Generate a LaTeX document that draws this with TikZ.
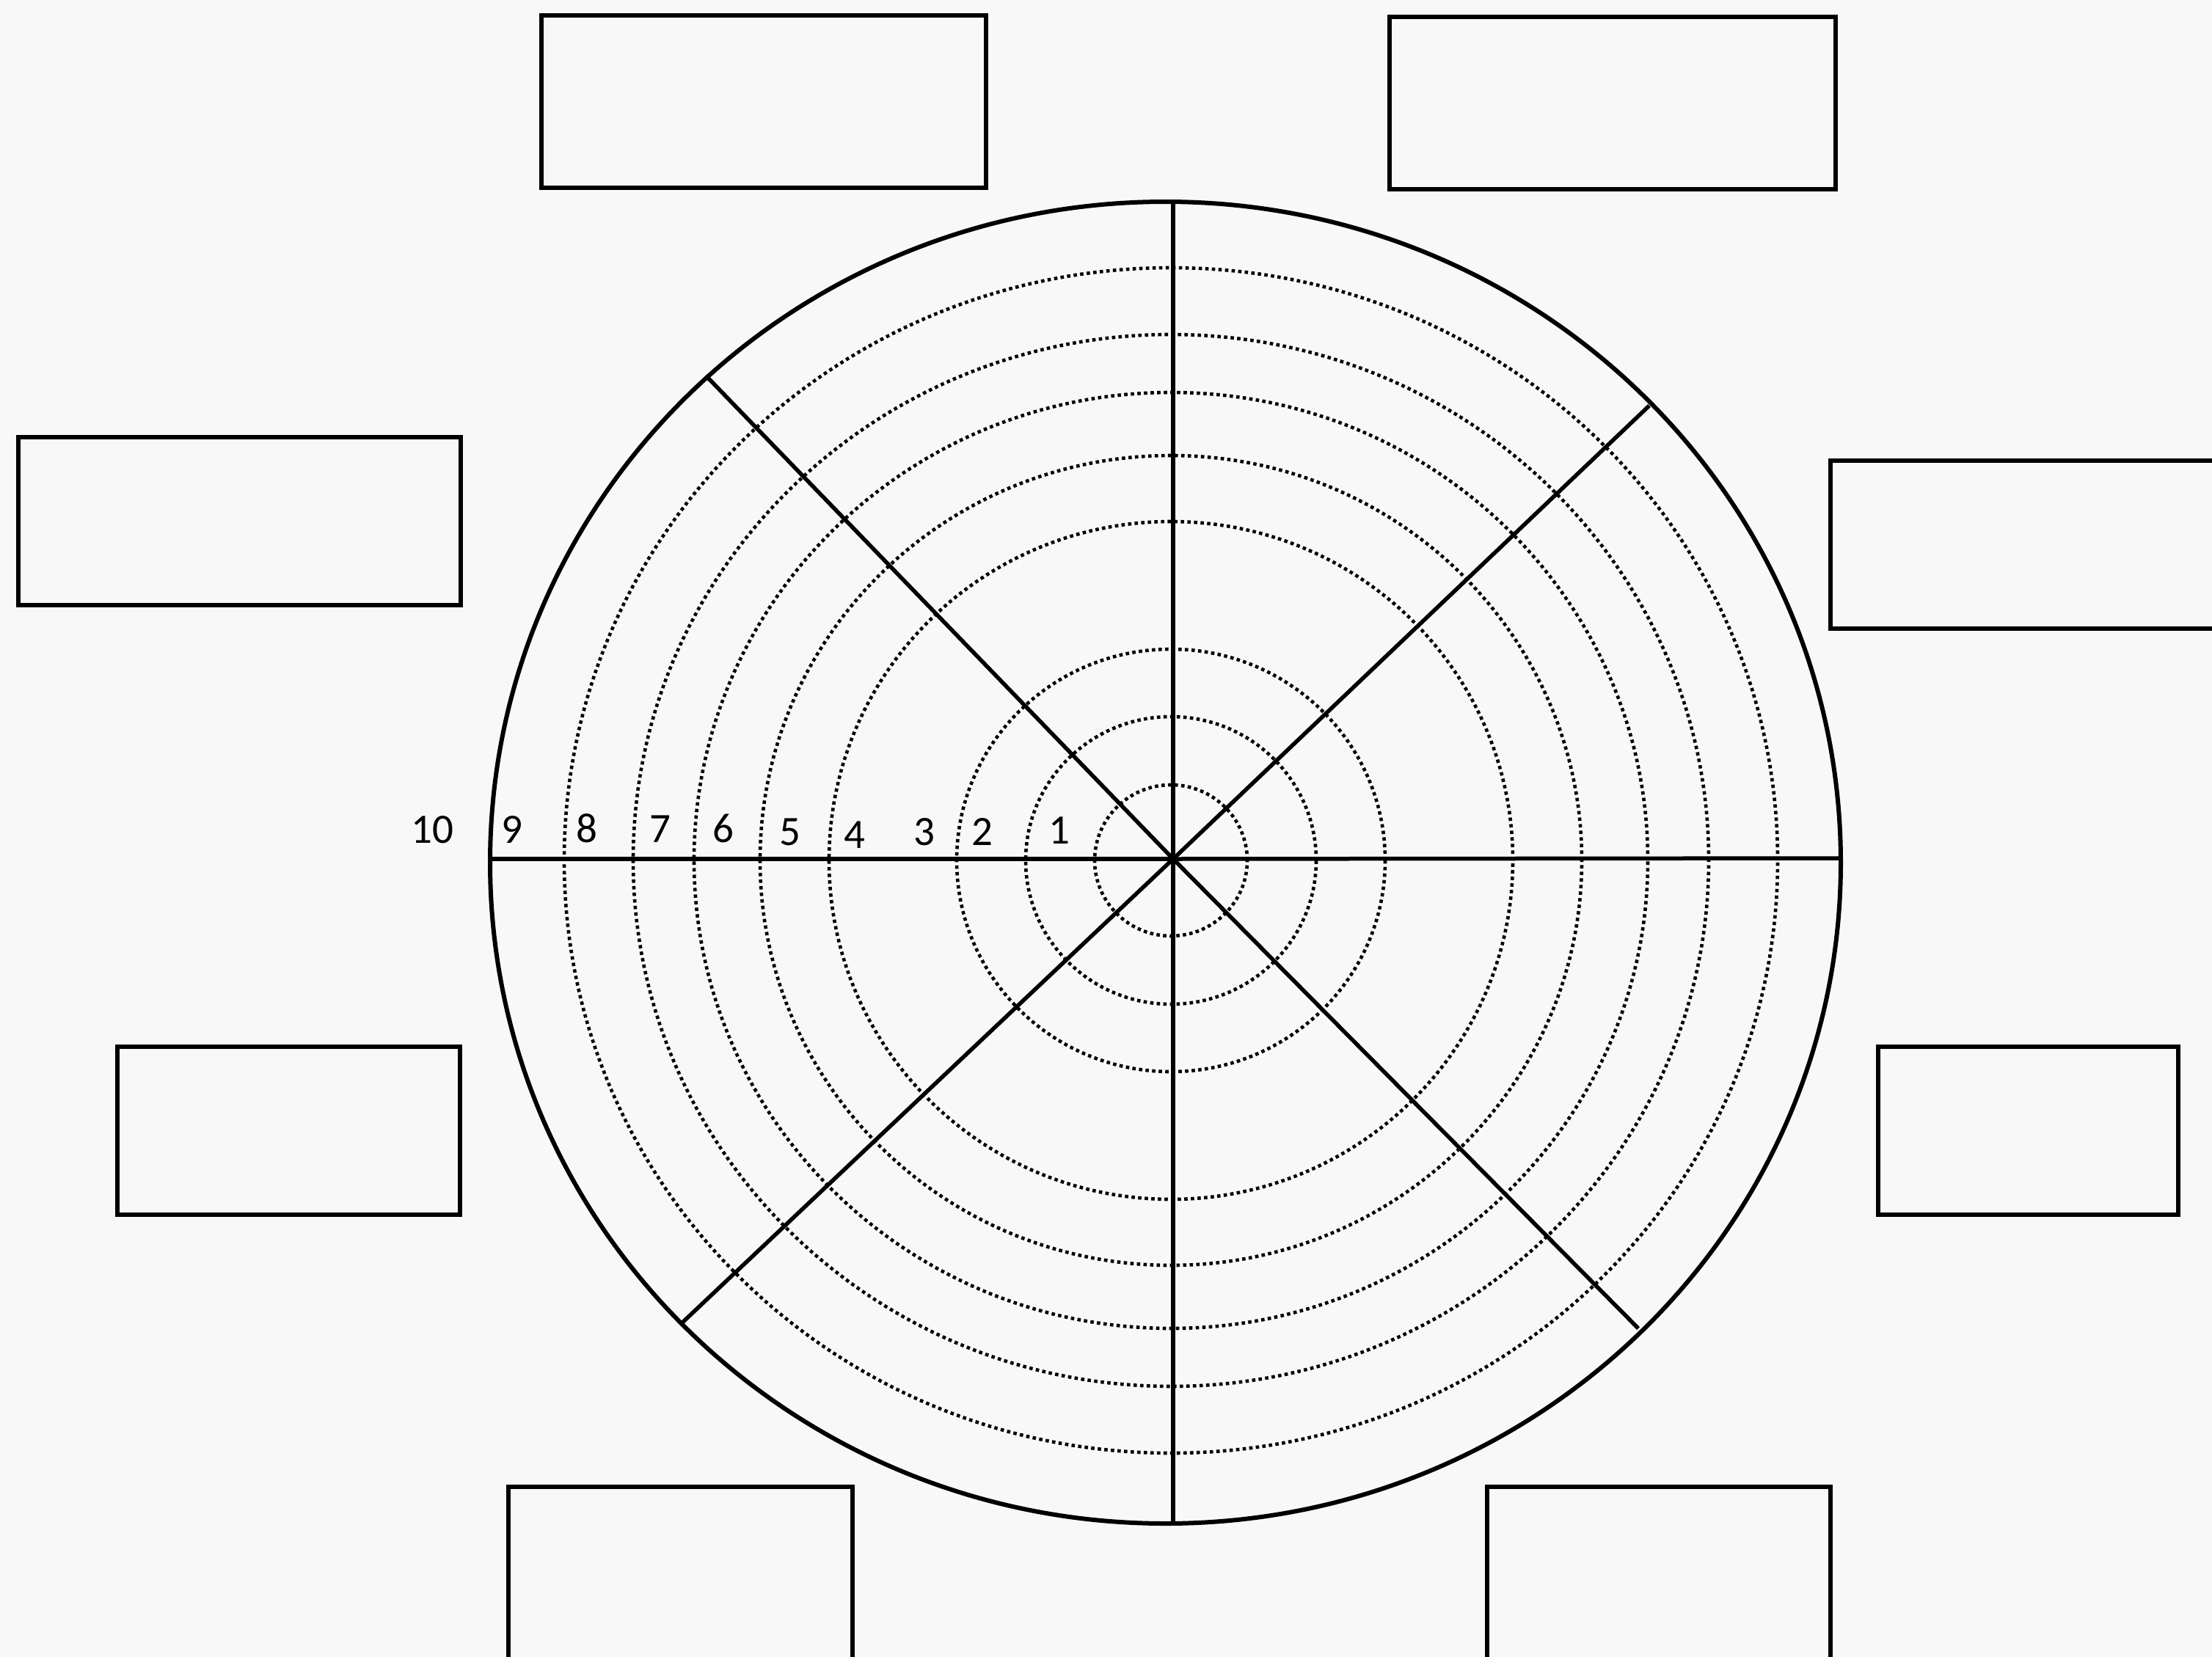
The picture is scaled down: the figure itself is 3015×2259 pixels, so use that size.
\documentclass[tikz,border=0pt]{standalone}
\usepackage{fontspec}
\setmainfont{Carlito}
\begin{document}
\begin{tikzpicture}[x=1pt,y=-1pt,
  rim/.style={line width=6pt, draw=black},
  spoke/.style={line width=5.5pt, draw=black},
  ring/.style={line width=4.6pt, draw=black, dash pattern=on 4.6pt off 4.4pt},
  labelbox/.style={draw=black, line width=6pt, rectangle, inner sep=0pt, fill=none},
  numlbl/.style={anchor=base, inner sep=0pt, font=\fontsize{57}{62}\selectfont}]
\useasboundingbox (0,0) rectangle (3015,2259);
\fill[color={rgb,255:red,248;green,248;blue,248}] (0,0) rectangle (3015,2259);
\clip (0,0) rectangle (3015,2259);

% centres
\coordinate (C) at (1599,1171);
\coordinate (RC) at (1596,1173);
\coordinate (O) at (1588.5,1176);

% dotted rings
\foreach \rx/\ry in {104/103, 198/196, 292/288, 466/462, 560/552, 650/638, 733/717, 827/808}
  \draw[ring] (RC) ellipse [x radius=\rx pt, y radius=\ry pt];

% outer rim
\draw[rim] (O) ellipse [x radius=920.5pt, y radius=901pt];

% spoke ends on the rim
\coordinate (pT) at (1599,275);
\coordinate (pB) at (1599,2077);
\coordinate (pL) at (668,1171);
\coordinate (pR) at (2509,1170);
\coordinate (pUL) at (962,512);
\coordinate (pUR) at (2248,553);
\coordinate (pLR) at (2233,1811);
\coordinate (pLL) at (929,1804);
\foreach \p in {pT,pB,pL,pR,pUL,pUR,pLR,pLL}
  \draw[spoke] (C) -- (\p);

% scale numbers
\node[numlbl] (n10) at (589,1149) {10};
\node[numlbl] (n9) at (698,1149) {9};
\node[numlbl] (n8) at (800,1148) {8};
\node[numlbl] (n7) at (900,1148) {7};
\node[numlbl] (n6) at (986,1148) {6};
\node[numlbl] (n5) at (1077,1152) {5};
\node[numlbl] (n4) at (1165,1156) {4};
\node[numlbl] (n3) at (1260,1152) {3};
\node[numlbl] (n2) at (1339,1152) {2};
\node[numlbl] (n1) at (1444,1150) {1};

% label boxes
\node[labelbox, minimum width=606pt, minimum height=235pt] (b1) at (1041,138.5) {};
\node[labelbox, minimum width=608pt, minimum height=235pt] (b2) at (2198,140.5) {};
\node[labelbox, minimum width=603pt, minimum height=229pt] (b3) at (326.5,710.5) {};
\node[labelbox, minimum width=605pt, minimum height=229pt] (b4) at (2797.5,742.5) {};
\node[labelbox, minimum width=467pt, minimum height=229pt] (b5) at (393.5,1541.5) {};
\node[labelbox, minimum width=409pt, minimum height=229pt] (b6) at (2764.5,1541.5) {};
\node[labelbox, minimum width=469pt, minimum height=273pt] (b7) at (927.5,2163.5) {};
\node[labelbox, minimum width=468pt, minimum height=273pt] (b8) at (2261,2163.5) {};
\end{tikzpicture}
\end{document}
